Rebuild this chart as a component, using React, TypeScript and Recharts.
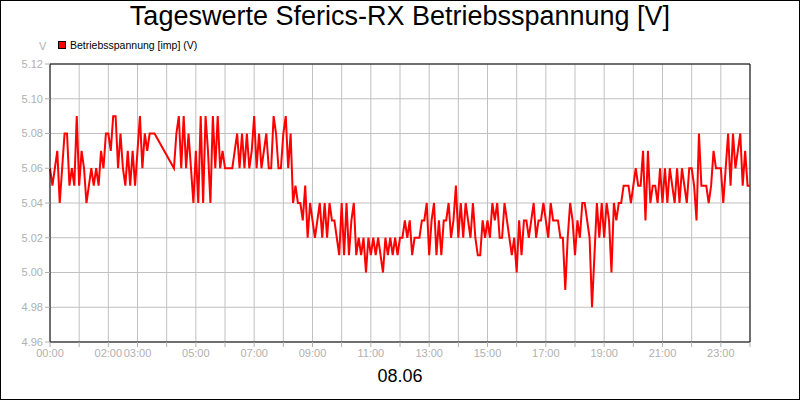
import React from "react";
import { LineChart, Line, XAxis, YAxis, CartesianGrid, ReferenceLine } from "recharts";

// Voltage samples, 12 per hour (every 5 minutes); null = no reading
const h00 = [5.06, 5.05, 5.06, 5.07, 5.04, 5.06, 5.08, 5.08, 5.05, 5.06, 5.05, 5.09];
const h01 = [5.05, 5.07, 5.06, 5.04, 5.05, 5.06, 5.05, 5.06, 5.05, 5.07, 5.06, 5.08];
const h02 = [5.08, 5.07, 5.09, 5.09, 5.06, 5.08, 5.06, 5.05, 5.07, 5.05, 5.07, 5.05];
const h03 = [5.07, 5.09, 5.06, 5.08, 5.07, 5.08, 5.08, 5.08, null, null, null, null];
const h04 = [null, null, null, 5.06, 5.08, 5.09, 5.06, 5.09, 5.06, 5.08, 5.06, 5.04];
const h05 = [5.07, 5.04, 5.09, 5.04, 5.09, 5.07, 5.04, 5.09, 5.06, 5.09, 5.06, 5.07];
const h06 = [5.06, 5.06, 5.06, 5.06, 5.07, 5.08, 5.06, 5.08, 5.06, 5.08, 5.06, 5.07];
const h07 = [5.09, 5.06, 5.08, 5.06, 5.07, 5.08, 5.06, 5.06, 5.09, 5.08, 5.06, 5.06];
const h08 = [5.08, 5.09, 5.06, 5.08, 5.04, 5.05, 5.04, 5.04, 5.03, 5.05, 5.02, 5.04];
const h09 = [5.03, 5.02, 5.03, 5.04, 5.02, 5.04, 5.02, 5.04, 5.03, 5.03, 5.02, 5.01];
const h10 = [5.04, 5.01, 5.04, 5.01, 5.03, 5.04, 5.01, 5.02, 5.01, 5.02, 5.0, 5.02];
const h11 = [5.01, 5.02, 5.01, 5.02, 5.01, 5.0, 5.02, 5.01, 5.02, 5.01, 5.02, 5.01];
const h12 = [5.02, 5.02, 5.03, 5.02, 5.03, 5.01, 5.02, 5.02, 5.02, 5.03, 5.03, 5.04];
const h13 = [5.01, 5.03, 5.04, 5.01, 5.03, 5.01, 5.03, 5.03, 5.04, 5.02, 5.03, 5.05];
const h14 = [5.02, 5.04, 5.02, 5.04, 5.03, 5.02, 5.04, 5.02, 5.01, 5.01, 5.03, 5.02];
const h15 = [5.03, 5.02, 5.04, 5.03, 5.04, 5.02, 5.02, 5.04, 5.03, 5.02, 5.01, 5.02];
const h16 = [5.0, 5.03, 5.01, 5.03, 5.03, 5.02, 5.03, 5.04, 5.02, 5.03, 5.03, 5.04];
const h17 = [5.03, 5.02, 5.04, 5.03, 5.03, 5.03, 5.02, 5.02, 4.99, 5.02, 5.04, 5.03];
const h18 = [5.01, 5.03, 5.02, 5.04, 5.04, 5.03, 5.02, 4.98, 5.01, 5.04, 5.02, 5.04];
const h19 = [5.02, 5.04, 5.03, 5.0, 5.04, 5.03, 5.04, 5.04, 5.05, 5.05, 5.05, 5.04];
const h20 = [5.05, 5.06, 5.05, 5.05, 5.07, 5.03, 5.07, 5.04, 5.05, 5.05, 5.04, 5.06];
const h21 = [5.04, 5.06, 5.04, 5.06, 5.05, 5.04, 5.06, 5.04, 5.06, 5.05, 5.04, 5.06];
const h22 = [5.06, 5.05, 5.03, 5.08, 5.05, 5.05, 5.05, 5.04, 5.05, 5.07, 5.06, 5.06];
const h23 = [5.06, 5.04, 5.06, 5.08, 5.05, 5.08, 5.06, 5.07, 5.08, 5.05, 5.07, 5.05];
const lastValue = 5.05; // reading at 24:00

const hours = [h00, h01, h02, h03, h04, h05, h06, h07, h08, h09, h10, h11,
  h12, h13, h14, h15, h16, h17, h18, h19, h20, h21, h22, h23];

const xTicks = [0, 1, 2, 3, 4, 5, 6, 7, 8, 9, 10, 11, 12, 13, 14, 15, 16, 17, 18, 19, 20, 21, 22, 23, 24];
const xLabels = ["00:00", "", "02:00", "03:00", "", "05:00", "", "07:00", "", "09:00", "", "11:00", "",
  "13:00", "", "15:00", "", "17:00", "", "19:00", "", "21:00", "", "23:00", ""];
const yTicks = [4.96, 4.98, 5.0, 5.02, 5.04, 5.06, 5.08, 5.1, 5.12];

const data: { t: number; v: number }[] = [];
hours.forEach((vals, h) => {
  vals.forEach((v, i) => {
    if (v !== null) data.push({ t: h + i / 12, v });
  });
});
data.push({ t: 24, v: lastValue });

const gray = "#b0b0b0";

export default function App() {
  return (
    <div style={{ position: "absolute", left: 0, top: 0, width: 800, height: 400, fontFamily: "'Liberation Sans', Arial, sans-serif", background: "#fff" }}>
      <LineChart width={800} height={400} data={data} margin={{ top: 64, right: 50, bottom: 38, left: 0 }}>
        <CartesianGrid stroke="#c0c0c0" horizontalValues={yTicks} verticalValues={xTicks} />
        <XAxis
          dataKey="t"
          type="number"
          domain={[0, 24]}
          ticks={xTicks}
          interval={0}
          height={20}
          tickFormatter={(h: number) => xLabels[h]}
          tick={{ fill: gray, fontSize: 11 }}
          tickLine={{ stroke: gray }}
          tickSize={5}
          axisLine={{ stroke: "#000" }}
        />
        <YAxis
          type="number"
          domain={[4.96, 5.12]}
          ticks={yTicks}
          interval={0}
          width={50}
          tickFormatter={(v: number) => v.toFixed(2)}
          tick={{ fill: gray, fontSize: 11 }}
          tickLine={{ stroke: gray }}
          tickSize={5}
          axisLine={{ stroke: "#000" }}
        />
        <ReferenceLine y={5.12} stroke="#000" />
        <ReferenceLine x={24} stroke="#000" />
        <Line type="linear" dataKey="v" stroke="#ff0000" strokeWidth={2} dot={false} connectNulls isAnimationActive={false} />
      </LineChart>
      <div style={{ position: "absolute", left: 0, top: 1, width: 800, textAlign: "center", fontSize: 27, color: "#000" }}>
        Tageswerte Sferics-RX Betriebsspannung [V]
      </div>
      <div style={{ position: "absolute", left: 39, top: 40, fontSize: 11, color: gray }}>V</div>
      <div style={{ position: "absolute", left: 58, top: 39, display: "flex", alignItems: "center", fontSize: 10.5, color: "#000" }}>
        <span style={{ display: "inline-block", width: 6, height: 6, background: "#ff0000", border: "1px solid #000", marginRight: 4 }} />
        Betriebsspannung [imp] (V)
      </div>
      <div style={{ position: "absolute", left: 0, top: 366, width: 800, textAlign: "center", fontSize: 18, color: "#000" }}>
        08.06
      </div>
      <div style={{ position: "absolute", left: 0, top: 0, width: 800, height: 400, border: "1px solid #000", boxSizing: "border-box", pointerEvents: "none" }} />
    </div>
  );
}
